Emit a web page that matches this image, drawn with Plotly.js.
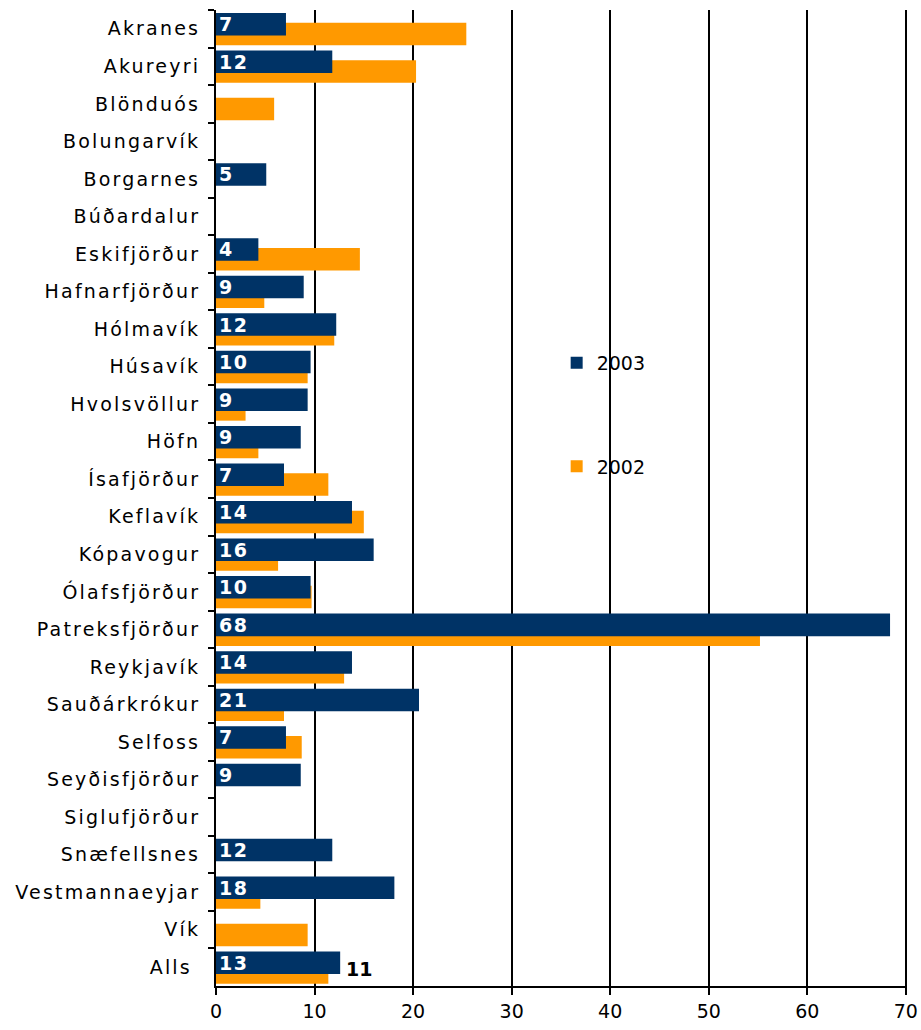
<!DOCTYPE html>
<html>
<head>
<meta charset="utf-8">
<script src="https://cdn.plot.ly/plotly-3.0.1.min.js"></script>
<style>
html,body{margin:0;padding:0;background:#fff;}
#chart{width:921px;height:1030px;}
.ytick text{letter-spacing:2.2px;}
.bartext{letter-spacing:1.5px;}
</style>
</head>
<body>
<div id="chart"></div>
<script>
const categories = ["Akranes","Akureyri","Blönduós","Bolungarvík","Borgarnes","Búðardalur","Eskifjörður","Hafnarfjörður","Hólmavík","Húsavík","Hvolsvöllur","Höfn","Ísafjörður","Keflavík","Kópavogur","Ólafsfjörður","Patreksfjörður","Reykjavík","Sauðárkrókur","Selfoss","Seyðisfjörður","Siglufjörður","Snæfellsnes","Vestmannaeyjar","Vík","Alls\u00a0"];
const values2003 = [7.1,11.8,null,null,5.1,null,4.3,8.9,12.2,9.6,9.3,8.6,6.9,13.8,16.0,9.6,68.4,13.8,20.6,7.1,8.6,null,11.8,18.1,null,12.6];
const values2002 = [25.4,20.3,5.9,null,null,null,14.6,4.9,12.0,9.3,3.0,4.3,11.4,15.0,6.3,9.7,55.2,13.0,6.9,8.7,null,null,null,4.5,9.3,11.4];
const seriesNames = ["2003","2002"];
const xTicks = [0,10,20,30,40,50,60,70];

const navy = "#003366", orange = "#FF9900";
const FONT = "DejaVu Sans, Verdana, sans-serif";

const labels2003 = values2003.map(v => v == null ? "" : String(Math.round(v)));
const allsIdx = categories.length - 1;

const trace2002 = {
  type: "bar", orientation: "h", name: seriesNames[1],
  y: categories, x: values2002,
  marker: {color: orange, line: {width: 0}},
  offset: -0.16, width: 0.6,
  legendgroup: "g2", hoverinfo: "skip"
};
const trace2003 = {
  type: "bar", orientation: "h", name: seriesNames[0],
  y: categories, x: values2003,
  marker: {color: navy, line: {width: 0}},
  offset: -0.42, width: 0.6,
  text: labels2003, textposition: "inside", insidetextanchor: "start",
  textangle: 0, constraintext: "none",
  insidetextfont: {family: FONT, size: 19, color: "#ffffff", weight: "bold"},
  legendgroup: "g1", legendrank: 1, hoverinfo: "skip"
};
trace2002.legendrank = 2;

const layout = {
  width: 921, height: 1030,
  margin: {l: 216, r: 14, t: 10, b: 44},
  paper_bgcolor: "#fff", plot_bgcolor: "#fff",
  barmode: "overlay",
  font: {family: FONT, size: 19, color: "#000"},
  xaxis: {
    range: [0, 70.12], tickvals: xTicks, ticktext: xTicks.map(String),
    showgrid: true, gridcolor: "#000", gridwidth: 2,
    zeroline: false, showline: true, linecolor: "#000", linewidth: 2,
    ticks: "outside", ticklen: 7, tickcolor: "#000", tickwidth: 2,
    tickfont: {family: FONT, size: 19, color: "#000"}, fixedrange: true
  },
  yaxis: {
    type: "category", categoryorder: "array", categoryarray: categories,
    autorange: "reversed",
    showgrid: false, zeroline: false, showline: true, linecolor: "#000", linewidth: 2,
    ticks: "outside", tickson: "boundaries", ticklen: 6, tickcolor: "#000", tickwidth: 2,
    ticklabelstandoff: 10,
    tickfont: {family: FONT, size: 19, color: "#000"}, fixedrange: true
  },
  legend: {
    x: 0.493, y: 0.658, xanchor: "left", yanchor: "top",
    bgcolor: "rgba(0,0,0,0)", borderwidth: 0,
    traceorder: "grouped", tracegroupgap: 76,
    font: {family: FONT, size: 19, color: "#000"}
  },
  shapes: [{
    type: "rect", layer: "between", xref: "x", yref: "paper",
    x0: 30.2, x1: 49.8, y0: 0.4795, y1: 0.6926,
    fillcolor: "#fff", line: {width: 0}
  }],
  annotations: [{
    x: values2003[allsIdx], y: categories[allsIdx], xref: "x", yref: "y",
    text: String(Math.round(values2002[allsIdx])), showarrow: false,
    xanchor: "left", yanchor: "middle", xshift: 4, yshift: -2,
    font: {family: FONT, size: 19, color: "#000", weight: "bold"}
  }]
};

Plotly.newPlot("chart", [trace2002, trace2003], layout, {staticPlot: true, displayModeBar: false});
</script>
</body>
</html>
